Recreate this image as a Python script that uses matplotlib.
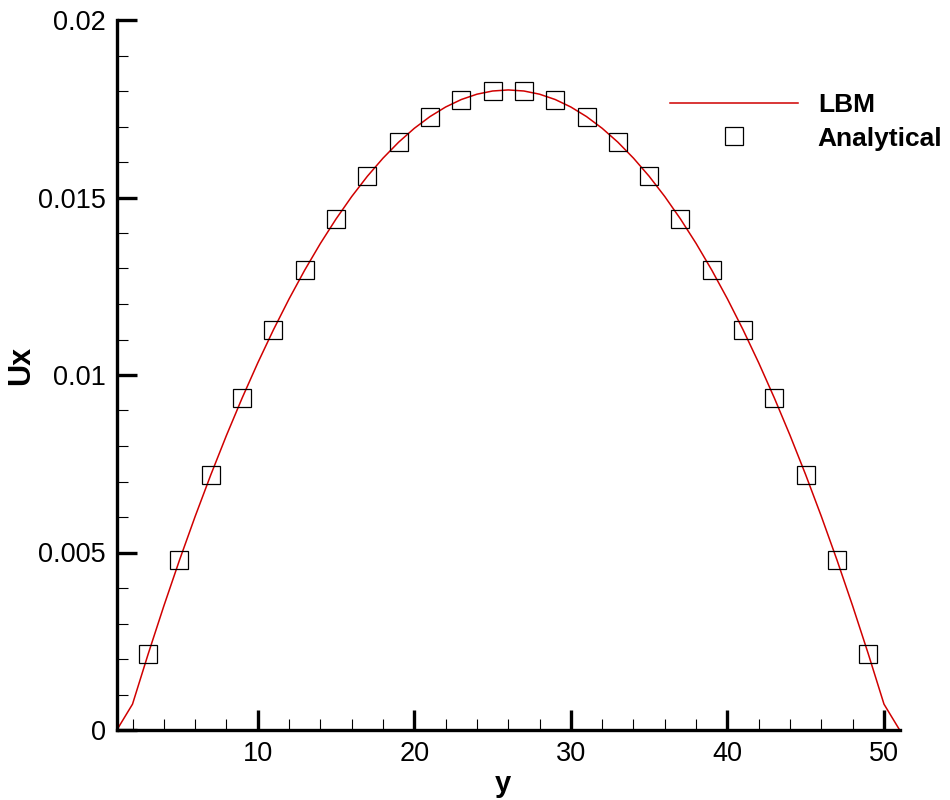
import numpy as np
import matplotlib.pyplot as plt
from matplotlib.ticker import MultipleLocator, FixedLocator

plt.rcParams['font.family'] = ['Liberation Sans', 'DejaVu Sans']

# LBM 速度剖面 (格点 1..51)
y_lbm = np.arange(1, 52)
u_half = [0.0, 0.000728, 0.00214, 0.003492, 0.004784, 0.006015, 0.007187,
          0.008298, 0.009349, 0.010340, 0.011272, 0.012143, 0.012955,
          0.013705, 0.014395, 0.015026, 0.015598, 0.016108, 0.016559,
          0.016949, 0.017279, 0.017549, 0.017760, 0.017910, 0.018000]
u_peak = [0.018030]
u_lbm = u_half + u_peak + u_half[::-1]

# 解析解 (奇数格点)
y_ana = [3, 5, 7, 9, 11, 13, 15, 17, 19, 21, 23, 25,
         27, 29, 31, 33, 35, 37, 39, 41, 43, 45, 47, 49]
u_ana_half = [0.00214, 0.004784, 0.007187, 0.009349, 0.011272, 0.012955,
              0.014395, 0.015598, 0.016559, 0.017279, 0.017760, 0.018000]
u_ana = u_ana_half + u_ana_half[::-1]

xticks = [10, 20, 30, 40, 50]
yticks = [0, 0.005, 0.01, 0.015, 0.02]
ytick_labels = ['0', '0.005', '0.01', '0.015', '0.02']

fig = plt.figure(figsize=(9.5, 8), dpi=100)
ax = fig.add_axes([0.123, 0.0875, 0.824, 0.8875])

ax.plot(y_lbm, u_lbm, '-', color='#d00000', lw=1.1, label='LBM')
ax.plot(y_ana, u_ana, 's', mfc='none', mec='black', mew=0.9, ms=13.5,
        label='Analytical')

ax.set_xlim(1, 51)
ax.set_ylim(0, 0.02)

ax.xaxis.set_major_locator(FixedLocator(xticks))
ax.xaxis.set_minor_locator(MultipleLocator(2))
ax.yaxis.set_major_locator(FixedLocator(yticks))
ax.set_yticklabels(ytick_labels)
ax.yaxis.set_minor_locator(MultipleLocator(0.001))

for s in ['top', 'right']:
    ax.spines[s].set_visible(False)
for s in ['left', 'bottom']:
    ax.spines[s].set_linewidth(2.4)

ax.tick_params(which='major', direction='in', length=14.5, width=2.4,
               labelsize=19.5, pad=8)
ax.tick_params(which='minor', direction='in', length=8, width=0.8)

ax.set_xlabel('y', fontsize=21, fontweight='bold')
ax.set_ylabel('Ux', fontsize=22, fontweight='bold')
ax.xaxis.set_label_coords(0.493, -0.057)
ax.yaxis.set_label_coords(-0.103, 0.513)

ax.legend(loc='upper right', bbox_to_anchor=(1.085, 0.93), frameon=False,
          prop={'weight': 'bold', 'size': 19}, handlelength=4.85,
          handletextpad=0.75, labelspacing=0.35)

fig.savefig('out.png', dpi=100)
